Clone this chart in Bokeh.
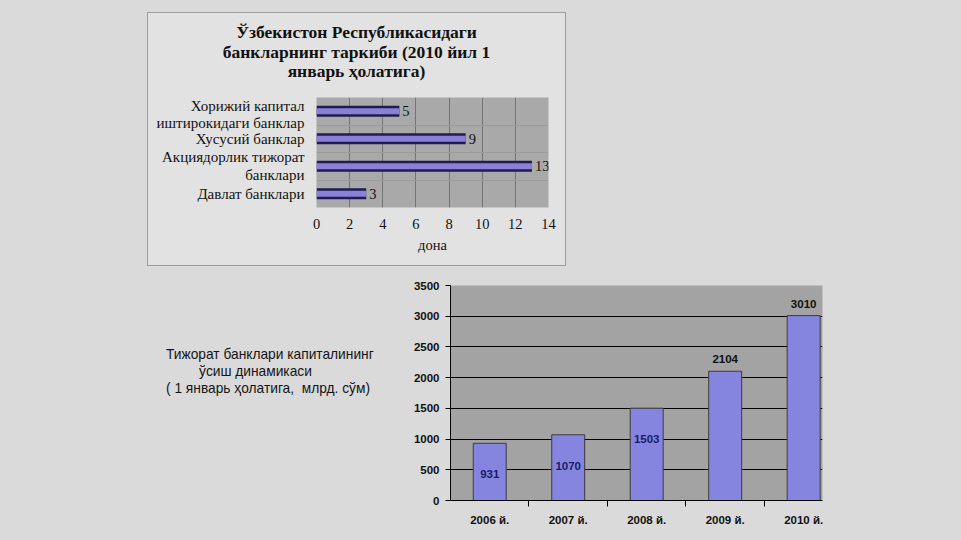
from bokeh.plotting import figure
from bokeh.models import Range1d, FixedTicker, Spacer, Div
from bokeh.layouts import column, row
from bokeh.embed import file_html
from bokeh.resources import INLINE
from bokeh.core.properties import value

# ---------------- data ----------------
bank_types = [
    "Хорижий капитал\nиштирокидаги банклар",
    "Хусусий банклар",
    "Акциядорлик тижорат\nбанклари",
    "Давлат банклари",
]
bank_counts = [5, 9, 13, 3]
count_ticks = [0, 2, 4, 6, 8, 10, 12, 14]
top_title = ["Ўзбекистон Республикасидаги", "банкларнинг таркиби (2010 йил 1", "январь ҳолатига)"]
top_xlabel = "дона"

years = ["2006 й.", "2007 й.", "2008 й.", "2009 й.", "2010 й."]
capital = [931, 1070, 1503, 2104, 3010]
capital_ticks = [0, 500, 1000, 1500, 2000, 2500, 3000, 3500]
side_text = ["Тижорат банклари капиталининг", "ўсиш динамикаси", "( 1 январь ҳолатига,  млрд. сўм)"]

PAGE = "#dadada"
BOX = "#e2e2e2"
SERIF = "Liberation Serif"
SANS = "Liberation Sans"

# ---------------- top chart ----------------
title_div = Div(
    text=(f'<div style="width:417px;text-align:center;font-family:{SERIF};font-size:17.5px;'
          f'font-weight:bold;line-height:19.5px;color:#111111;padding-top:10px;">'
          + "<br>".join(top_title) + "</div>"),
    width=417, height=84, margin=0)

n = len(bank_types)
ypos = [n - (i + 0.5) for i in range(n)]

p1 = figure(width=417, height=168, x_range=Range1d(0, 14), y_range=Range1d(0, n),
            output_backend="svg", toolbar_location=None,
            min_border_left=168, min_border_right=17, min_border_top=0, min_border_bottom=58,
            background_fill_color="#a9a9a9", border_fill_color=BOX,
            outline_line_color=None)

p1.xaxis.ticker = FixedTicker(ticks=count_ticks)
p1.xaxis.axis_line_color = None
p1.xaxis.major_tick_line_color = None
p1.xaxis.minor_tick_line_color = None
p1.xaxis.major_label_text_font = SERIF
p1.xaxis.major_label_text_font_size = "14.5px"
p1.xaxis.major_label_text_color = "#111111"
p1.xaxis.major_label_standoff = 5
p1.xaxis.axis_label = top_xlabel
p1.xaxis.axis_label_text_font = SERIF
p1.xaxis.axis_label_text_font_size = "14.5px"
p1.xaxis.axis_label_text_font_style = "normal"
p1.xaxis.axis_label_text_color = "#111111"
p1.xaxis.axis_label_standoff = 5

p1.yaxis.ticker = FixedTicker(ticks=ypos, minor_ticks=list(range(1, n)))
p1.yaxis.major_label_overrides = {y: t for y, t in zip(ypos, bank_types)}
p1.yaxis.axis_line_color = None
p1.yaxis.major_tick_line_color = None
p1.yaxis.minor_tick_line_color = None
p1.yaxis.major_label_text_font = SERIF
p1.yaxis.major_label_text_font_size = "15px"
p1.yaxis.major_label_text_line_height = 1.1
p1.yaxis.major_label_text_color = "#111111"
p1.yaxis.major_label_standoff = 6

p1.xgrid.grid_line_color = "#747474"
p1.ygrid.grid_line_color = None
p1.ygrid.minor_grid_line_color = "#9a9a9a"

p1.hbar(y=ypos, left=0, right=bank_counts, height=0.4, fill_color="#201c52", line_color=None)
p1.hbar(y=ypos, left=0, right=bank_counts, height=0.21, fill_color="#8b7fd8", line_color=None)
p1.text(x=bank_counts, y=ypos, text=[str(c) for c in bank_counts], x_offset=3,
        text_baseline="middle", text_align="left", text_font=value(SERIF),
        text_font_size="14.5px", text_color="#111111")

top_box = column(title_div, p1,
                 styles={"background-color": BOX, "box-shadow": "0 0 0 1px #9c9c9c"})

# ---------------- bottom chart ----------------
m = len(years)
xpos = [i + 0.5 for i in range(m)]

p2 = figure(width=444, height=265, x_range=Range1d(0, 4.74), y_range=Range1d(0, 3500),
            output_backend="svg", toolbar_location=None,
            min_border_left=52, min_border_right=20, min_border_top=15, min_border_bottom=35,
            background_fill_color="#a3a3a3", border_fill_color=PAGE,
            outline_line_color=None)

p2.yaxis.ticker = FixedTicker(ticks=capital_ticks)
p2.yaxis.axis_line_color = "#000000"
p2.yaxis.major_tick_line_color = "#000000"
p2.yaxis.major_tick_out = 5
p2.yaxis.major_tick_in = 0
p2.yaxis.minor_tick_line_color = None
p2.yaxis.major_label_text_font = SANS
p2.yaxis.major_label_text_font_size = "11.5px"
p2.yaxis.major_label_text_font_style = "bold"
p2.yaxis.major_label_text_color = "#111111"
p2.yaxis.major_label_standoff = 6

p2.xaxis.ticker = FixedTicker(ticks=xpos, minor_ticks=list(range(1, m)))
p2.xaxis.major_label_overrides = {x: t for x, t in zip(xpos, years)}
p2.xaxis.axis_line_color = "#000000"
p2.xaxis.major_tick_line_color = None
p2.xaxis.minor_tick_line_color = "#000000"
p2.xaxis.minor_tick_out = 6
p2.xaxis.minor_tick_in = 0
p2.xaxis.major_label_text_font = SANS
p2.xaxis.major_label_text_font_size = "11.5px"
p2.xaxis.major_label_text_font_style = "bold"
p2.xaxis.major_label_text_color = "#111111"
p2.xaxis.major_label_standoff = 7

p2.xgrid.grid_line_color = None
p2.ygrid.grid_line_color = "#000000"
p2.ygrid.grid_line_width = 1

p2.vbar(x=xpos, bottom=0, top=capital, width=0.42, fill_color="#8585e0", line_color="#3c3c3c")

inside = [v < 2000 for v in capital]
in_x = [x for x, f in zip(xpos, inside) if f]
in_v = [v for v, f in zip(capital, inside) if f]
out_x = [x for x, f in zip(xpos, inside) if not f]
out_v = [v for v, f in zip(capital, inside) if not f]
p2.text(x=in_x, y=in_v, text=[str(v) for v in in_v], y_offset=31, text_align="center",
        text_baseline="middle", text_font=value(SANS), text_font_size="11.5px",
        text_font_style="bold", text_color="#1a1c6a")
p2.text(x=out_x, y=out_v, text=[str(v) for v in out_v], y_offset=-12, text_align="center",
        text_baseline="middle", text_font=value(SANS), text_font_size="11.5px",
        text_font_style="bold", text_color="#111111")

lines_html = (
    f'<div style="margin-left:166px;margin-top:76px;font-family:{SANS};font-size:13.75px;'
    f'line-height:17px;color:#151515;white-space:pre;">'
    f'<div>{side_text[0]}</div>'
    f'<div style="padding-left:33px;">{side_text[1]}</div>'
    f'<div>{side_text[2]}</div>'
    f'</div>'
)
div = Div(text=lines_html, width=398, height=265, margin=0)

layout = column(
    Spacer(width=10, height=13),
    row(Spacer(width=148, height=252), top_box),
    Spacer(width=10, height=5),
    row(div, p2),
)

html = file_html(layout, INLINE)
i = html.rfind("</head>")
html = html[:i] + f"<style>html,body{{background-color:{PAGE};}}</style>" + html[i:]
open("out.html", "w").write(html)
